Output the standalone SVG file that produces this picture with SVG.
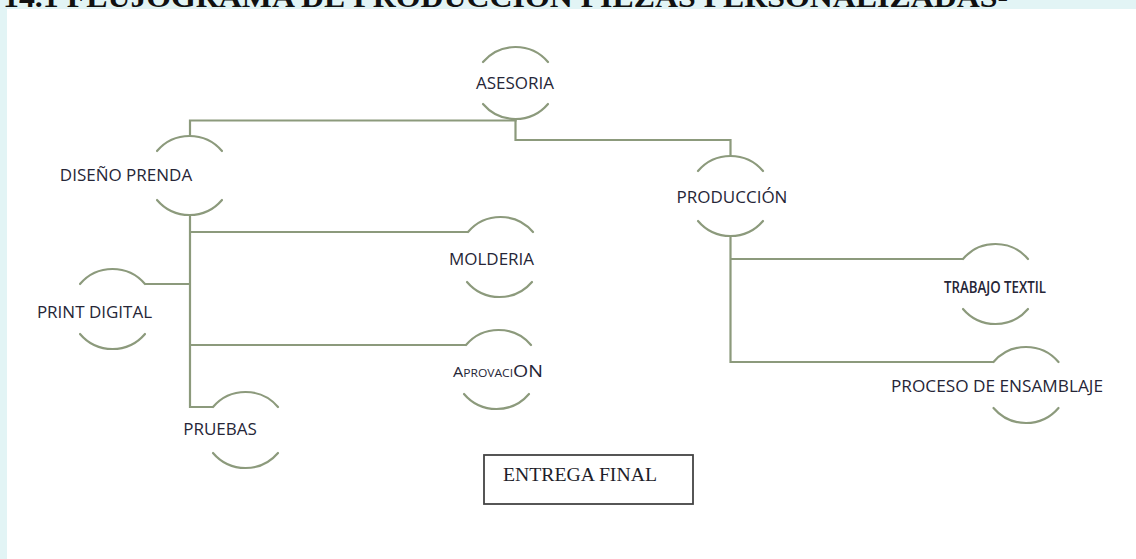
<svg xmlns="http://www.w3.org/2000/svg" width="1136" height="559" viewBox="0 0 1136 559">
  <style>
    .arc { fill: none; stroke: #8c9a7c; stroke-width: 2.2; stroke-linecap: round; }
    .wire { fill: none; stroke: #8c9a7c; stroke-width: 2.2; stroke-linejoin: miter; }
    .lbl { font-family: "Open Sans", "Liberation Sans", sans-serif; font-size: 17px; fill: #262637; text-anchor: middle; }
    .title { font-family: "Liberation Serif", "Times New Roman", serif; font-weight: bold; font-size: 30px; fill: #111111; }
    .box { fill: #ffffff; stroke: #444444; stroke-width: 1.8; }
    .boxlbl { font-family: "Liberation Serif", "Times New Roman", serif; font-size: 18.5px; fill: #1e1e2a; }
  </style>

  <!-- page background and sheet -->
  <rect x="0" y="0" width="1136" height="559" fill="#e2f4f5"/>
  <rect x="7" y="9" width="1129" height="550" fill="#ffffff"/>

  <!-- heading, clipped at the top edge -->
  <text class="title" x="3" y="7" textLength="1005" lengthAdjust="spacingAndGlyphs">14.1 FLUJOGRAMA DE PRODUCCION PIEZAS PERSONALIZADAS-</text>

  <!-- connectors -->
  <g id="connectors">
    <path class="wire" d="M515.5,119 V120.5 H190 V136"/>
    <path class="wire" d="M515.5,119 V140 H730.5 V156"/>
    <path class="wire" d="M190,215 V407 H213"/>
    <path class="wire" d="M190,232 H468"/>
    <path class="wire" d="M190,284 H145"/>
    <path class="wire" d="M190,345 H466"/>
    <path class="wire" d="M730.5,236 V362 H993.5"/>
    <path class="wire" d="M730.5,259 H963"/>
  </g>

  <!-- nodes: a top and a bottom arc around each label -->
  <g id="asesoria">
    <path class="arc" d="M483,62 A42.7,42.7 0 0 1 548,62"/>
    <path class="arc" d="M483,104 A42.7,42.7 0 0 0 548,104"/>
    <text class="lbl" x="515" y="89">ASESORIA</text>
  </g>

  <g id="diseno-prenda">
    <path class="arc" d="M157,151 A42.7,42.7 0 0 1 222,151"/>
    <path class="arc" d="M157,200 A42.7,42.7 0 0 0 222,200"/>
    <text class="lbl" x="126" y="181">DISEÑO PRENDA</text>
  </g>

  <g id="produccion">
    <path class="arc" d="M698,171 A42.7,42.7 0 0 1 763,171"/>
    <path class="arc" d="M698,221 A42.7,42.7 0 0 0 763,221"/>
    <text class="lbl" x="732" y="203">PRODUCCIÓN</text>
  </g>

  <g id="trabajo-textil">
    <path class="arc" d="M963,259 A42.7,42.7 0 0 1 1028,259"/>
    <path class="arc" d="M963,309 A42.7,42.7 0 0 0 1028,309"/>
    <text class="lbl" x="995" y="292.5" font-size="12.5" font-weight="600" textLength="102" lengthAdjust="spacingAndGlyphs">TRABAJO TEXTIL</text>
  </g>

  <g id="proceso-ensamblaje">
    <path class="arc" d="M993.5,362 A42.7,42.7 0 0 1 1058.5,362"/>
    <path class="arc" d="M993.5,408 A42.7,42.7 0 0 0 1058.5,408"/>
    <text class="lbl" x="997" y="392" textLength="212" lengthAdjust="spacingAndGlyphs">PROCESO DE ENSAMBLAJE</text>
  </g>

  <g id="molderia">
    <path class="arc" d="M468,232 A42.7,42.7 0 0 1 533,232"/>
    <path class="arc" d="M467,282 A42.7,42.7 0 0 0 532,282"/>
    <text class="lbl" x="491.5" y="265">MOLDERIA</text>
  </g>

  <g id="print-digital">
    <path class="arc" d="M80,284 A42.7,42.7 0 0 1 145,284"/>
    <path class="arc" d="M80,334 A42.7,42.7 0 0 0 145,334"/>
    <text class="lbl" x="94.5" y="318">PRINT DIGITAL</text>
  </g>

  <g id="aprovacion">
    <path class="arc" d="M466,345 A42.7,42.7 0 0 1 531,345"/>
    <path class="arc" d="M464,394 A42.7,42.7 0 0 0 529,394"/>
    <text class="lbl" x="498" y="377" textLength="90" lengthAdjust="spacingAndGlyphs"><tspan font-size="14">A</tspan><tspan font-size="10.5">PROVACI</tspan><tspan font-size="17">ON</tspan></text>
  </g>

  <g id="pruebas">
    <path class="arc" d="M213,407 A42.7,42.7 0 0 1 278,407"/>
    <path class="arc" d="M213,453 A42.7,42.7 0 0 0 278,453"/>
    <text class="lbl" x="220" y="435">PRUEBAS</text>
  </g>

  <g id="entrega-final">
    <rect class="box" x="484" y="455" width="209" height="49"/>
    <text class="boxlbl" x="503" y="480.5" textLength="154" lengthAdjust="spacingAndGlyphs">ENTREGA FINAL</text>
  </g>
</svg>
